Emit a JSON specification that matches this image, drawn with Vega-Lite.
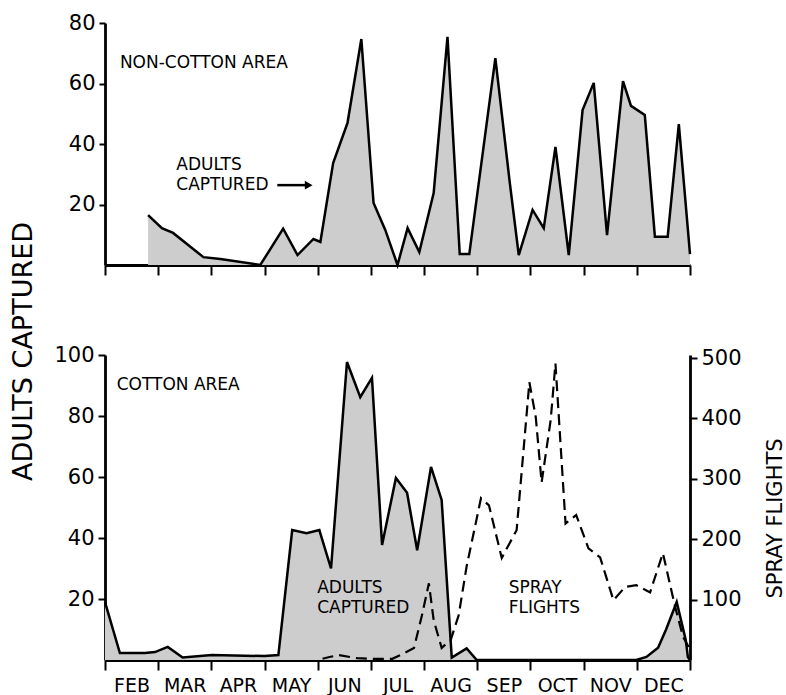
{
  "$schema": "https://vega.github.io/schema/vega-lite/v6.json",
  "background": "white",
  "padding": {"left": 8, "top": 12, "right": 2, "bottom": 5},
  "spacing": 90,
  "bounds": "flush",
  "datasets": {
    "nonCotton": [
      {"m": 0.81, "adults": 16.5}, {"m": 1.07, "adults": 12.2}, {"m": 1.28, "adults": 10.6}, {"m": 1.85, "adults": 2.6},
      {"m": 2.17, "adults": 2.0}, {"m": 2.92, "adults": 0}, {"m": 3.35, "adults": 12}, {"m": 3.62, "adults": 3.3},
      {"m": 3.92, "adults": 8.6}, {"m": 4.05, "adults": 7.6}, {"m": 4.29, "adults": 33.7}, {"m": 4.56, "adults": 47},
      {"m": 4.82, "adults": 74.7}, {"m": 5.05, "adults": 20.5}, {"m": 5.27, "adults": 11.6}, {"m": 5.5, "adults": 0},
      {"m": 5.69, "adults": 12.2}, {"m": 5.91, "adults": 4.3}, {"m": 6.18, "adults": 23.8}, {"m": 6.44, "adults": 75.4},
      {"m": 6.67, "adults": 3.6}, {"m": 6.85, "adults": 3.6}, {"m": 7.34, "adults": 68.4}, {"m": 7.61, "adults": 27.4},
      {"m": 7.78, "adults": 3.3}, {"m": 8.04, "adults": 18.2}, {"m": 8.25, "adults": 12.2}, {"m": 8.47, "adults": 39},
      {"m": 8.72, "adults": 3.3}, {"m": 8.98, "adults": 51.2}, {"m": 9.19, "adults": 60.2}, {"m": 9.44, "adults": 9.9},
      {"m": 9.74, "adults": 60.8}, {"m": 9.89, "adults": 52.6}, {"m": 10.15, "adults": 49.6}, {"m": 10.34, "adults": 9.3},
      {"m": 10.58, "adults": 9.3}, {"m": 10.79, "adults": 46.6}, {"m": 11.0, "adults": 3.6}
    ],
    "cottonAdults": [
      {"m": 0, "adults": 19}, {"m": 0.28, "adults": 2.3}, {"m": 0.75, "adults": 2.3}, {"m": 0.94, "adults": 2.6},
      {"m": 1.18, "adults": 4.3}, {"m": 1.46, "adults": 0.8}, {"m": 2.01, "adults": 1.6}, {"m": 3.0, "adults": 1.3},
      {"m": 3.26, "adults": 1.6}, {"m": 3.52, "adults": 42.6}, {"m": 3.79, "adults": 41.6}, {"m": 4.03, "adults": 42.6},
      {"m": 4.25, "adults": 30}, {"m": 4.55, "adults": 97.7}, {"m": 4.8, "adults": 86.2}, {"m": 5.02, "adults": 92.5},
      {"m": 5.21, "adults": 37.7}, {"m": 5.47, "adults": 59.7}, {"m": 5.68, "adults": 54.8}, {"m": 5.87, "adults": 36},
      {"m": 6.13, "adults": 63.3}, {"m": 6.33, "adults": 52.5}, {"m": 6.52, "adults": 0.8}, {"m": 6.8, "adults": 3.8},
      {"m": 6.99, "adults": 0}, {"m": 9.99, "adults": 0}, {"m": 10.18, "adults": 1}, {"m": 10.4, "adults": 4},
      {"m": 10.55, "adults": 10}, {"m": 10.75, "adults": 19}, {"m": 10.92, "adults": 6.6}, {"m": 10.96, "adults": 1},
      {"m": 11.0, "adults": 0}
    ],
    "spray": [
      {"m": 4.09, "flights": 2}, {"m": 4.22, "flights": 5}, {"m": 4.4, "flights": 8}, {"m": 4.74, "flights": 3},
      {"m": 5.0, "flights": 2}, {"m": 5.4, "flights": 2}, {"m": 5.62, "flights": 11}, {"m": 5.81, "flights": 20},
      {"m": 5.96, "flights": 74}, {"m": 6.09, "flights": 127}, {"m": 6.18, "flights": 66}, {"m": 6.33, "flights": 20},
      {"m": 6.5, "flights": 33}, {"m": 6.65, "flights": 74}, {"m": 6.8, "flights": 155}, {"m": 7.07, "flights": 268},
      {"m": 7.22, "flights": 256}, {"m": 7.46, "flights": 169}, {"m": 7.74, "flights": 215}, {"m": 7.98, "flights": 460},
      {"m": 8.1, "flights": 402}, {"m": 8.21, "flights": 294}, {"m": 8.38, "flights": 397}, {"m": 8.47, "flights": 491},
      {"m": 8.66, "flights": 226}, {"m": 8.86, "flights": 240}, {"m": 9.09, "flights": 185}, {"m": 9.31, "flights": 170},
      {"m": 9.56, "flights": 99}, {"m": 9.78, "flights": 121}, {"m": 9.99, "flights": 124}, {"m": 10.25, "flights": 112},
      {"m": 10.49, "flights": 177}, {"m": 10.72, "flights": 88}, {"m": 10.87, "flights": 38}, {"m": 10.98, "flights": 21}
    ],
    "topNotes": [
      {"label": "NON-COTTON AREA", "m": 0.28, "adults": 66.8},
      {"label": "ADULTS", "m": 1.34, "adults": 33.2},
      {"label": "CAPTURED", "m": 1.34, "adults": 26.4}
    ],
    "arrow": [
      {"m": 3.24, "m2": 3.83, "adults": 26.4}
    ],
    "bottomNotes": [
      {"label": "COTTON AREA", "m": 0.22, "adults": 90.2},
      {"label": "ADULTS", "m": 3.99, "adults": 23.5},
      {"label": "CAPTURED", "m": 3.99, "adults": 17},
      {"label": "SPRAY", "m": 7.59, "adults": 23.5},
      {"label": "FLIGHTS", "m": 7.59, "adults": 17}
    ]
  },
  "vconcat": [
    {
      "width": 585,
      "height": 242,
      "encoding": {
        "x": {"field": "m", "type": "quantitative", "scale": {"domain": [0, 11], "nice": false, "zero": false},
              "axis": {"values": [0,1,2,3,4,5,6,7,8,9,10,11], "labels": false, "tickSize": 10, "title": null}},
        "y": {"field": "adults", "type": "quantitative", "scale": {"domain": [0, 80], "nice": false},
              "axis": {"values": [20, 40, 60, 80], "tickSize": 6, "title": null}}
      },
      "layer": [
        {
          "data": {"name": "nonCotton"},
          "mark": {"type": "area", "color": "#cdcdcd", "opacity": 1, "line": {"color": "#000", "strokeWidth": 2.5}}
        },
        {
          "data": {"name": "topNotes"},
          "mark": {"type": "text", "align": "left", "baseline": "middle", "font": "DejaVu Sans", "fontSize": 17, "color": "#000"},
          "encoding": {"text": {"field": "label"}}
        },
        {
          "data": {"name": "arrow"},
          "mark": {"type": "rule", "color": "#000", "strokeWidth": 2.5},
          "encoding": {"x2": {"field": "m2"}}
        },
        {
          "data": {"name": "arrow"},
          "mark": {"type": "point", "shape": "triangle-right", "filled": true, "color": "#000", "opacity": 1, "size": 80},
          "encoding": {
            "x": {"field": "m2", "type": "quantitative", "scale": {"domain": [0, 11], "nice": false, "zero": false},
                  "axis": {"values": [0,1,2,3,4,5,6,7,8,9,10,11], "labels": false, "tickSize": 10, "title": null}}
          }
        }
      ]
    },
    {
      "width": 585,
      "height": 305,
      "encoding": {
        "x": {"field": "m", "type": "quantitative", "scale": {"domain": [0, 11], "nice": false, "zero": false},
              "axis": {"values": [0,0.5,1,1.5,2,2.5,3,3.5,4,4.5,5,5.5,6,6.5,7,7.5,8,8.5,9,9.5,10,10.5,11],
                       "labelExpr": "datum.value % 1 === 0.5 ? ['FEB','MAR','APR','MAY','JUN','JUL','AUG','SEP','OCT','NOV','DEC'][floor(datum.value)] : ''",
                       "tickOpacity": {"condition": {"test": "datum.value % 1 !== 0", "value": 0}, "value": 1},
                       "tickSize": 10, "labelPadding": 6, "labelFontSize": 19, "labelOverlap": false, "labelFlush": false, "labelBound": false,
                       "title": null}}
      },
      "layer": [
        {
          "encoding": {
            "y": {"field": "adults", "type": "quantitative", "scale": {"domain": [0, 100], "nice": false},
                  "axis": {"orient": "left", "values": [20, 40, 60, 80, 100], "tickSize": 7,
                           "title": "ADULTS CAPTURED", "titleFontSize": 27, "titleAngle": 270,
                           "titleX": -82, "titleY": -4, "titleAlign": "center", "titleBaseline": "middle"}}
          },
          "layer": [
            {
              "data": {"name": "cottonAdults"},
              "mark": {"type": "area", "color": "#cdcdcd", "opacity": 1, "line": {"color": "#000", "strokeWidth": 2.5}}
            },
            {
              "data": {"name": "bottomNotes"},
              "mark": {"type": "text", "align": "left", "baseline": "middle", "font": "DejaVu Sans", "fontSize": 17, "color": "#000"},
              "encoding": {"text": {"field": "label"}}
            }
          ]
        },
        {
          "data": {"name": "spray"},
          "mark": {"type": "line", "color": "#000", "strokeWidth": 2.2, "strokeDash": [11, 6]},
          "encoding": {
            "y": {"field": "flights", "type": "quantitative", "scale": {"domain": [0, 505], "nice": false},
                  "axis": {"orient": "right", "values": [100, 200, 300, 400, 500], "tickSize": 7,
                           "title": "SPRAY FLIGHTS", "titleFontSize": 21, "titleAngle": 270,
                           "titleX": 85, "titleY": 163, "titleAlign": "center", "titleBaseline": "middle"}}
          }
        }
      ],
      "resolve": {"scale": {"y": "independent"}, "axis": {"y": "independent"}}
    }
  ],
  "config": {
    "view": {"stroke": null},
    "font": "DejaVu Sans",
    "axis": {
      "grid": false,
      "domainColor": "#000",
      "domainWidth": 2.8,
      "tickColor": "#000",
      "tickWidth": 2,
      "labelColor": "#000",
      "labelFont": "DejaVu Sans",
      "labelFontSize": 21,
      "labelPadding": 4,
      "titleColor": "#000",
      "titleFont": "DejaVu Sans",
      "titleFontWeight": "normal"
    }
  }
}
